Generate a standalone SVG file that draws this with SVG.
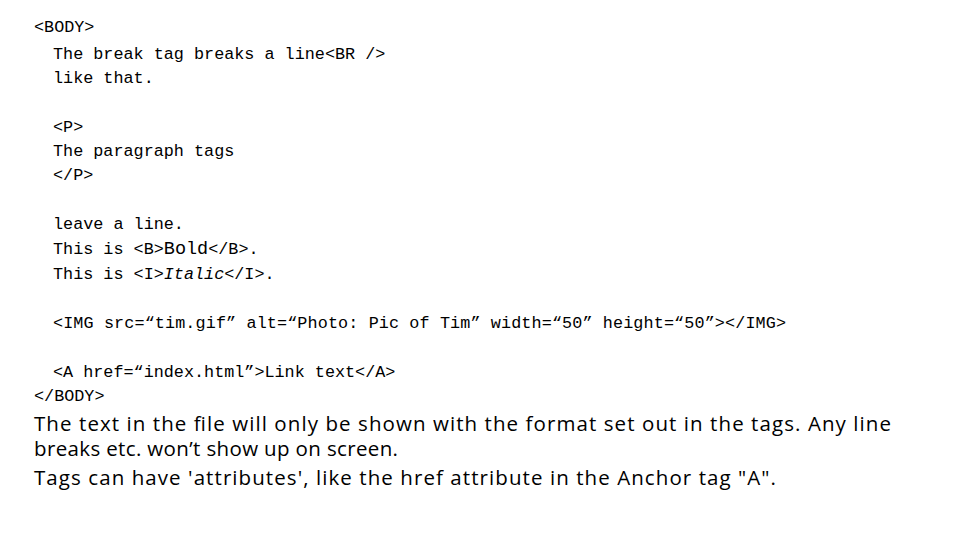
<svg xmlns="http://www.w3.org/2000/svg" width="960" height="540" viewBox="0 0 960 540">
<style>
.m{font-family:"Liberation Mono","Courier New",monospace;font-size:16.8px;fill:#000}
.s{font-family:"Open Sans","Liberation Sans",sans-serif;font-size:20.5px;fill:#000}
</style>
<rect width="960" height="540" fill="#fff"/>
<g id="code">
<text class="m" x="34" y="32">&lt;BODY&gt;</text>
<text class="m" x="53" y="59">The break tag breaks a line&lt;BR /&gt;</text>
<text class="m" x="53" y="83">like that.</text>
<text class="m" x="53" y="132">&lt;P&gt;</text>
<text class="m" x="53" y="156">The paragraph tags</text>
<text class="m" x="53" y="180">&lt;/P&gt;</text>
<text class="m" x="53" y="229">leave a line.</text>
<text class="m" x="53" y="254">This is &lt;B&gt;<tspan font-size="18.5">Bold</tspan>&lt;/B&gt;.</text>
<text class="m" x="53" y="279">This is &lt;I&gt;<tspan font-style="italic">Italic</tspan>&lt;/I&gt;.</text>
<text class="m" x="53" y="328" textLength="733">&lt;IMG src=“tim.gif” alt=“Photo: Pic of Tim” width=“50” height=“50”&gt;&lt;/IMG&gt;</text>
<text class="m" x="53" y="377">&lt;A href=“index.html”&gt;Link text&lt;/A&gt;</text>
<text class="m" x="34" y="401">&lt;/BODY&gt;</text>
</g>
<g id="notes">
<text class="s" x="34" y="431" textLength="857">The text in the file will only be shown with the format set out in the tags. Any line</text>
<text class="s" x="34" y="456" textLength="364">breaks etc. won’t show up on screen.</text>
<text class="s" x="34" y="485" textLength="742">Tags can have 'attributes', like the href attribute in the Anchor tag "A".</text>
</g>
</svg>
